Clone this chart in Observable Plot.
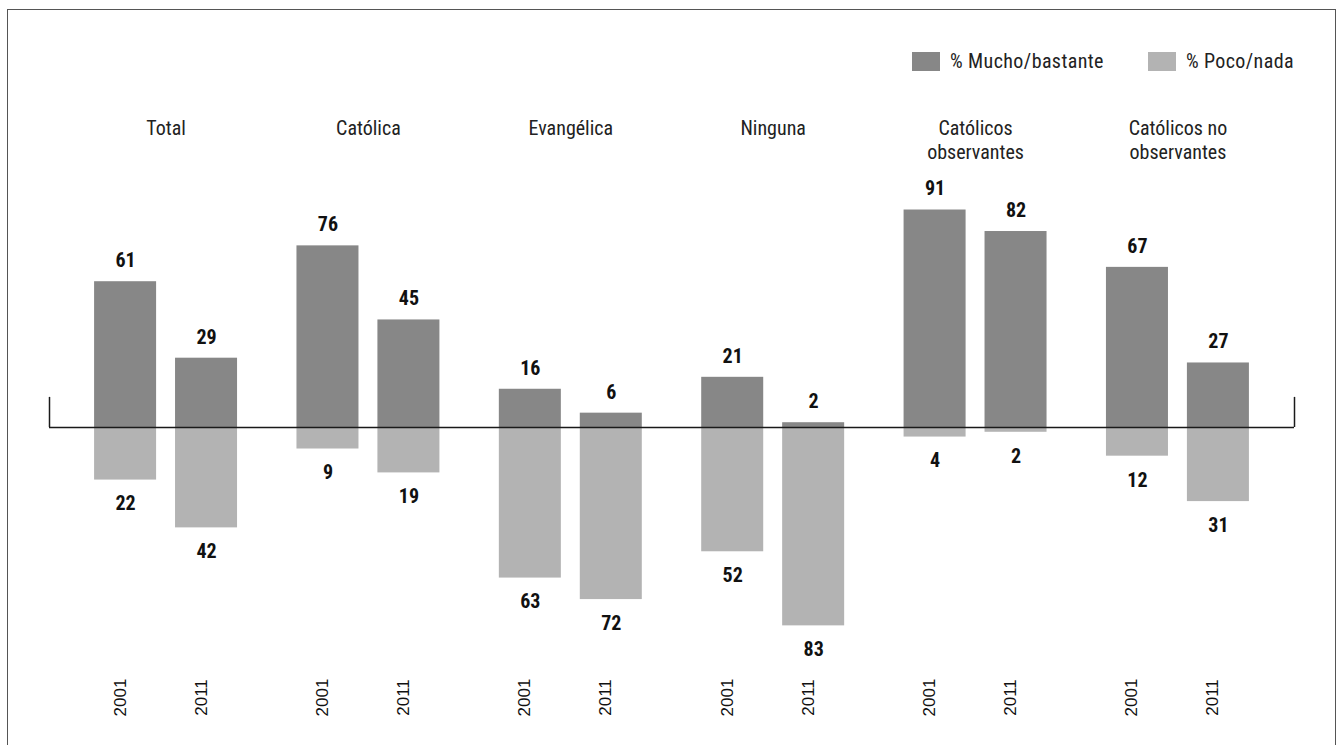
<!DOCTYPE html>
<html><head><meta charset="utf-8">
<script src="https://cdn.jsdelivr.net/npm/d3@7"></script>
<script src="https://cdn.jsdelivr.net/npm/@observablehq/plot@0.6"></script>
<style>
body{margin:0;background:#fff;overflow:hidden;}
#page{position:relative;width:1338px;height:745px;overflow:hidden;}
#frame{position:absolute;left:7px;top:9px;width:1329px;height:800px;border:1.5px solid #555;box-sizing:border-box;}
#legend{position:absolute;top:49px;right:44px;display:flex;align-items:center;font-family:"Liberation Sans Narrow","Roboto Condensed","DejaVu Sans Condensed",sans-serif;font-size:20px;color:#222;letter-spacing:0.4px;}
#legend .sw{width:28px;height:19px;margin-right:10px;}
#legend .item{display:flex;align-items:center;margin-left:44px;}
#chart{position:absolute;left:0;top:80px;}
</style></head>
<body><div id="page"><div id="frame"></div><div id="legend"></div><div id="chart"></div></div>
<script>
const categories = ["Total","Católica","Evangélica","Ninguna","Católicos\nobservantes","Católicos no\nobservantes"];
const years = ["2001","2011"];
const mucho = [61,29,76,45,16,6,21,2,91,82,67,27];
const poco  = [22,42,9,19,63,72,52,83,4,2,12,31];
const seriesNames = ["% Mucho/bastante","% Poco/nada"];
const colors = ["#878787","#b3b3b3"];

const narrow = '"Liberation Sans Narrow","Roboto Condensed","DejaVu Sans Condensed",sans-serif';

const rows = [];
categories.forEach((c, g) => years.forEach((yr, i) => {
  const k = g * 2 + i;
  rows.push({cat: c, year: yr, pos: g * 2.5 + i, mucho: mucho[k], poco: poco[k]});
}));
const groups = categories.map((c, g) => ({cat: c, pos: g * 2.5 + 0.5}));
const half = 0.383;
const xDomain = [-0.94, 14.44];

const legend = document.getElementById("legend");
seriesNames.forEach((s, i) => {
  const it = document.createElement("div"); it.className = "item";
  const sw = document.createElement("div"); sw.className = "sw"; sw.style.background = colors[i];
  const t = document.createElement("span"); t.textContent = s;
  it.appendChild(sw); it.appendChild(t); legend.appendChild(it);
});

const chart = Plot.plot({
  width: 1338, height: 665,
  marginLeft: 49, marginRight: 44, marginTop: 108, marginBottom: 79,
  x: {type: "linear", domain: xDomain, axis: null},
  y: {domain: [-100, 100], axis: null},
  style: {background: "transparent"},
  marks: [
    Plot.rect(rows, {x1: d => d.pos - half, x2: d => d.pos + half, y1: 0, y2: "mucho", fill: colors[0]}),
    Plot.rect(rows, {x1: d => d.pos - half, x2: d => d.pos + half, y1: 0, y2: d => -d.poco, fill: colors[1]}),
    Plot.ruleY([0], {stroke: "#1a1a1a", strokeWidth: 1.5}),
    Plot.ruleX(xDomain, {y1: 0, y2: 12.6, stroke: "#1a1a1a", strokeWidth: 1.5}),
    Plot.text(rows, {x: "pos", y: "mucho", text: d => String(d.mucho), dy: -21, fontWeight: "bold", fontSize: 20, fontFamily: narrow, fill: "#111"}),
    Plot.text(rows, {x: "pos", y: d => -d.poco, text: d => String(d.poco), dy: 24, fontWeight: "bold", fontSize: 20, fontFamily: narrow, fill: "#111"}),
    Plot.text(rows, {x: "pos", text: "year", frameAnchor: "bottom", dy: 31, rotate: -90, fontSize: 17, fontFamily: '"Liberation Sans",Arial,sans-serif', fill: "#111"}),
    Plot.text(groups, {x: "pos", text: "cat", frameAnchor: "top", lineAnchor: "top", dy: -71, lineHeight: 1.2, fontSize: 20, fontFamily: narrow, fill: "#222", letterSpacing: "0.7px"})
  ]
});
document.getElementById("chart").appendChild(chart);
</script>
</body></html>
